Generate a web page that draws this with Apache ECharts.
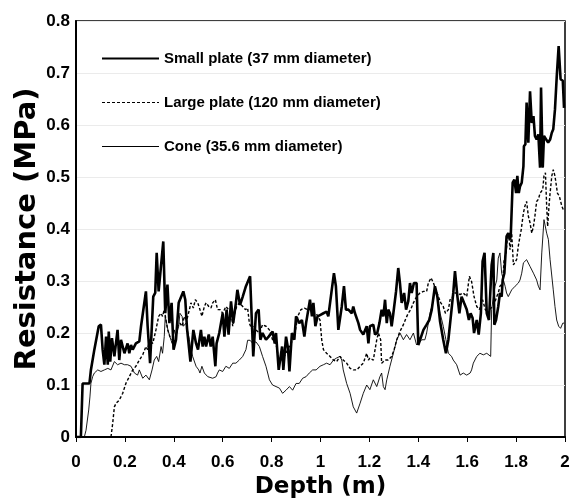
<!DOCTYPE html>
<html><head><meta charset="utf-8">
<script src="https://cdn.jsdelivr.net/npm/echarts@6/dist/echarts.min.js"></script>
<style>html,body{margin:0;padding:0;background:#fff}#c{width:579px;height:500px}</style>
</head><body><div id="c"></div>
<script>
var xTicks = [0, 0.2, 0.4, 0.6, 0.8, 1, 1.2, 1.4, 1.6, 1.8, 2];
var yTicks = [0, 0.1, 0.2, 0.3, 0.4, 0.5, 0.6, 0.7, 0.8];
var seriesNames = ['Small plate (37 mm diameter)', 'Large plate (120 mm diameter)', 'Cone (35.6 mm diameter)'];

var smallDepth = [0,0.020,0.027,0.055,0.061,0.075,0.093,0.102,0.109,0.116,0.123,0.130,0.134,0.140,0.147,0.157,0.170,0.177,0.184,0.198,0.204,0.211,0.218,0.225,0.232,0.245,0.259,0.266,0.286,0.293,0.303,0.316,0.324,0.330,0.338,0.357,0.365,0.374,0.382,0.391,0.399,0.409,0.420,0.439,0.447,0.454,0.468,0.480,0.491,0.499,0.511,0.518,0.525,0.532,0.543,0.551,0.559,0.570,0.575,0.586,0.600,0.607,0.616,0.624,0.634,0.643,0.654,0.660,0.671,0.682,0.695,0.712,0.720,0.725,0.736,0.747,0.754,0.763,0.777,0.788,0.804,0.813,0.818,0.829,0.843,0.848,0.859,0.867,0.873,0.883,0.893,0.900,0.913,0.924,0.934,0.941,0.957,0.965,0.971,0.979,0.988,
1.000,1.012,1.025,1.032,1.046,1.055,1.063,1.073,1.087,1.096,1.104,1.114,1.128,1.134,1.141,1.155,1.162,1.175,1.189,1.196,1.202,1.216,1.223,1.232,1.241,1.250,1.257,1.264,1.271,1.277,1.284,1.291,1.298,1.309,1.318,1.325,1.332,1.342,1.350,1.359,1.366,1.373,1.382,1.393,1.400,1.407,1.421,1.434,1.445,1.455,1.468,1.478,1.489,1.502,1.513,1.523,1.536,1.543,1.550,1.560,1.568,1.577,1.587,1.598,1.607,1.614,1.622,1.628,1.639,1.647,1.656,1.663,1.671,1.680,1.689,1.700,1.707,1.711,1.718,1.727,1.734,1.741,1.745,1.752,1.761,1.768,1.775,1.778,1.786,1.793,1.800,1.805,1.811,1.816,1.823,1.830,1.832,1.838,1.843,1.850,1.857,1.864,1.871,1.877,1.884,1.891,1.898,1.902,1.909,1.914,1.922,1.931,1.939,1.946,1.952,1.959,1.966,1.974,1.982,1.991,1.996];
var smallRes = [0,0,0.103,0.103,0.129,0.168,0.213,0.216,0.168,0.139,0.193,0.139,0.203,0.145,0.190,0.155,0.206,0.148,0.187,0.161,0.164,0.180,0.161,0.177,0.168,0.180,0.184,0.213,0.280,0.213,0.142,0.270,0.277,0.354,0.280,0.376,0.238,0.293,0.219,0.258,0.168,0.187,0.258,0.280,0.264,0.209,0.145,0.206,0.180,0.168,0.206,0.174,0.193,0.174,0.197,0.174,0.193,0.136,0.180,0.200,0.238,0.193,0.245,0.197,0.261,0.219,0.258,0.283,0.254,0.270,0.290,0.309,0.213,0.155,0.238,0.245,0.187,0.200,0.187,0.193,0.203,0.180,0.200,0.129,0.174,0.129,0.193,0.171,0.126,0.200,0.187,0.232,0.219,0.225,0.193,0.219,0.264,0.232,0.258,0.213,0.232,
0.235,0.238,0.241,0.232,0.283,0.315,0.290,0.206,0.251,0.290,0.245,0.245,0.238,0.251,0.238,0.219,0.206,0.197,0.213,0.180,0.213,0.216,0.197,0.200,0.219,0.245,0.232,0.264,0.219,0.245,0.238,0.213,0.238,0.280,0.325,0.296,0.258,0.277,0.245,0.261,0.296,0.277,0.296,0.296,0.177,0.177,0.206,0.216,0.225,0.245,0.290,0.270,0.222,0.187,0.161,0.187,0.245,0.277,0.319,0.270,0.238,0.270,0.258,0.245,0.225,0.238,0.229,0.200,0.225,0.197,0.238,0.338,0.354,0.238,0.225,0.331,0.354,0.216,0.225,0.251,0.277,0.270,0.302,0.315,0.386,0.392,0.380,0.386,0.489,0.495,0.469,0.502,0.469,0.482,0.489,0.521,0.559,0.563,0.643,0.566,0.665,0.604,0.617,0.579,0.572,0.582,0.518,0.672,0.518,0.579,0.582,0.566,0.572,0.585,0.592,0.630,0.691,0.752,0.688,0.685,0.633];

var largeDepth = [0,0.143,0.150,0.157,0.164,0.177,0.191,0.204,0.218,0.232,0.245,0.259,0.273,0.286,0.293,0.300,0.314,0.327,0.338,0.348,0.354,0.361,0.368,0.375,0.384,0.395,0.409,0.416,0.425,0.434,0.443,0.453,0.464,0.470,0.480,0.488,0.498,0.507,0.515,0.525,0.532,0.543,0.552,0.559,0.570,0.579,0.589,0.600,0.613,0.624,0.634,0.641,0.649,0.657,0.668,0.682,0.693,0.702,0.709,0.720,0.729,0.736,0.750,0.763,0.777,0.791,0.804,0.818,0.832,0.838,0.852,0.866,0.879,0.893,0.907,0.920,0.934,0.948,0.961,0.971,0.982,
0.998,1.005,1.012,1.025,1.039,1.053,1.066,1.080,1.093,1.107,1.121,1.134,1.148,1.162,1.175,1.189,1.196,1.202,1.216,1.230,1.237,1.246,1.250,1.264,1.277,1.291,1.301,1.312,1.325,1.339,1.350,1.359,1.369,1.380,1.393,1.407,1.421,1.434,1.441,1.452,1.462,1.472,1.482,1.492,1.502,1.511,1.523,1.530,1.541,1.550,1.560,1.571,1.584,1.598,1.609,1.618,1.628,1.639,1.650,1.663,1.674,1.686,1.696,1.707,1.721,1.727,1.734,1.745,1.751,1.759,1.764,1.770,1.775,1.782,1.789,1.796,1.802,1.809,1.816,1.821,1.830,1.836,1.843,1.850,1.857,1.864,1.871,1.877,1.884,1.891,1.898,1.905,1.909,1.914,1.920,1.925,1.929,1.935,1.939,1.946,1.952,1.959,1.969,1.977,1.987,1.996];
var largeRes = [0,0,0.026,0.058,0.065,0.071,0.084,0.103,0.116,0.129,0.136,0.148,0.158,0.174,0.168,0.187,0.180,0.206,0.232,0.238,0.232,0.245,0.225,0.206,0.193,0.187,0.193,0.213,0.219,0.213,0.232,0.225,0.245,0.258,0.248,0.264,0.258,0.245,0.232,0.251,0.258,0.251,0.248,0.258,0.264,0.245,0.245,0.238,0.251,0.245,0.245,0.213,0.238,0.251,0.258,0.251,0.245,0.248,0.219,0.206,0.213,0.206,0.200,0.216,0.213,0.206,0.187,0.180,0.142,0.148,0.155,0.168,0.180,0.193,0.232,0.245,0.248,0.245,0.245,0.238,0.238,
0.225,0.187,0.168,0.161,0.155,0.148,0.145,0.155,0.148,0.142,0.132,0.129,0.129,0.136,0.142,0.161,0.148,0.152,0.148,0.187,0.200,0.187,0.142,0.148,0.148,0.155,0.168,0.187,0.203,0.216,0.229,0.238,0.245,0.258,0.270,0.277,0.280,0.280,0.296,0.306,0.296,0.283,0.270,0.258,0.251,0.238,0.245,0.264,0.270,0.277,0.277,0.274,0.277,0.270,0.309,0.299,0.270,0.251,0.245,0.264,0.245,0.238,0.248,0.251,0.270,0.277,0.290,0.296,0.341,0.354,0.380,0.392,0.360,0.392,0.331,0.328,0.341,0.367,0.386,0.399,0.431,0.444,0.453,0.425,0.412,0.392,0.405,0.425,0.453,0.457,0.469,0.466,0.476,0.502,0.508,0.444,0.405,0.447,0.469,0.502,0.514,0.502,0.469,0.463,0.444,0.434];

var coneDepth = [0,0.034,0.041,0.052,0.057,0.061,0.068,0.075,0.089,0.102,0.116,0.130,0.143,0.157,0.170,0.184,0.198,0.211,0.225,0.239,0.252,0.259,0.273,0.286,0.300,0.311,0.320,0.330,0.338,0.348,0.354,0.361,0.365,0.371,0.376,0.384,0.393,0.402,0.409,0.420,0.425,0.434,0.439,0.450,0.464,0.470,0.477,0.491,0.502,0.507,0.515,0.525,0.539,0.559,0.573,0.579,0.586,0.600,0.613,0.627,0.641,0.654,0.668,0.682,0.695,0.702,0.712,0.723,0.736,0.750,0.763,0.777,0.791,0.804,0.818,0.832,0.845,0.859,0.873,0.886,0.900,0.913,0.927,0.941,0.954,0.968,0.982,
0.998,1.012,1.025,1.039,1.053,1.066,1.080,1.087,1.093,1.107,1.121,1.134,1.148,1.162,1.175,1.189,1.202,1.216,1.230,1.243,1.250,1.257,1.264,1.271,1.284,1.298,1.312,1.325,1.339,1.352,1.366,1.380,1.393,1.400,1.414,1.427,1.434,1.448,1.462,1.468,1.475,1.482,1.489,1.496,1.502,1.513,1.523,1.536,1.543,1.557,1.571,1.584,1.598,1.612,1.618,1.625,1.639,1.652,1.666,1.680,1.696,1.700,1.707,1.714,1.721,1.727,1.734,1.741,1.748,1.755,1.761,1.768,1.782,1.796,1.809,1.816,1.823,1.830,1.843,1.850,1.857,1.871,1.884,1.891,1.898,1.905,1.914,1.920,1.925,1.932,1.939,1.952,1.959,1.966,1.974,1.982,1.991,1.996];
var coneRes = [0,0,0.013,0.052,0.077,0.103,0.116,0.123,0.129,0.126,0.129,0.132,0.129,0.145,0.139,0.142,0.139,0.139,0.136,0.123,0.119,0.129,0.113,0.119,0.110,0.129,0.148,0.155,0.145,0.174,0.161,0.193,0.232,0.232,0.206,0.193,0.180,0.206,0.193,0.213,0.238,0.232,0.213,0.219,0.187,0.168,0.155,0.136,0.129,0.123,0.136,0.123,0.116,0.113,0.116,0.123,0.129,0.126,0.136,0.132,0.142,0.142,0.148,0.155,0.168,0.186,0.186,0.180,0.183,0.174,0.155,0.136,0.110,0.100,0.097,0.094,0.084,0.090,0.097,0.090,0.103,0.103,0.113,0.116,0.123,0.129,0.129,
0.136,0.139,0.142,0.139,0.148,0.152,0.155,0.148,0.129,0.103,0.084,0.058,0.046,0.065,0.084,0.100,0.091,0.110,0.097,0.116,0.123,0.097,0.091,0.110,0.136,0.161,0.187,0.200,0.187,0.197,0.187,0.200,0.177,0.174,0.187,0.187,0.200,0.238,0.264,0.290,0.277,0.258,0.238,0.225,0.213,0.187,0.161,0.155,0.148,0.139,0.119,0.123,0.119,0.123,0.129,0.142,0.155,0.161,0.158,0.161,0.155,0.245,0.270,0.290,0.302,0.344,0.354,0.315,0.302,0.290,0.277,0.270,0.283,0.290,0.296,0.302,0.315,0.335,0.341,0.341,0.328,0.315,0.302,0.290,0.283,0.354,0.418,0.418,0.392,0.380,0.341,0.283,0.251,0.225,0.213,0.209,0.219,0.219];

function pairs(xs, ys) { return xs.map(function (x, i) { return [x, ys[i]]; }); }

var FONT = '"Liberation Sans", Arial, sans-serif';
var WIDE = '"DejaVu Sans", "Liberation Sans", sans-serif';
var chart = echarts.init(document.getElementById('c'), null, { renderer: 'canvas' });
chart.setOption({
  animation: false,
  backgroundColor: '#fff',
  grid: { left: 76, right: 14, top: 21, bottom: 63, containLabel: false, outerBoundsMode: 'none',
    show: true, borderColor: '#000', borderWidth: 1.5, backgroundColor: 'transparent' },
  legend: {
    orient: 'vertical', left: 96, top: 46, itemWidth: 57, itemHeight: 14, itemGap: 29,
    itemStyle: { color: 'transparent', borderColor: 'transparent', borderWidth: 0 },
    textStyle: { fontFamily: FONT, fontWeight: 'bold', fontSize: 15, color: '#000' },
    data: [
      { name: seriesNames[0], lineStyle: { width: 2 } },
      { name: seriesNames[1], lineStyle: { width: 1.2, type: [3, 2] } },
      { name: seriesNames[2], lineStyle: { width: 1 } }
    ]
  },
  xAxis: {
    type: 'value', min: xTicks[0], max: xTicks[xTicks.length - 1], interval: 0.2,
    name: 'Depth (m)', nameLocation: 'middle', nameGap: 39,
    nameTextStyle: { fontFamily: WIDE, fontWeight: 'bold', fontSize: 23, color: '#000' },
    axisLine: { lineStyle: { color: '#000', width: 2 } },
    axisTick: { show: true, inside: false, length: 5, lineStyle: { color: '#000', width: 1 } },
    axisLabel: { fontFamily: FONT, fontWeight: 'bold', fontSize: 17, color: '#000', margin: 17 },
    splitLine: { show: false }
  },
  yAxis: {
    type: 'value', min: yTicks[0], max: yTicks[yTicks.length - 1], interval: 0.1,
    name: 'Resistance (MPa)', nameLocation: 'middle', nameGap: 34, nameMoveOverlap: false,
    nameTextStyle: { fontFamily: WIDE, fontWeight: 'bold', fontSize: 29, color: '#000' },
    axisLine: { show: true, lineStyle: { color: '#000', width: 2 } },
    axisTick: { show: false },
    axisLabel: { fontFamily: FONT, fontWeight: 'bold', fontSize: 17, color: '#000', margin: 6 },
    splitLine: { show: true, lineStyle: { color: '#ebebeb', width: 1 } }
  },
  series: [
    { name: seriesNames[0], type: 'line', data: pairs(smallDepth, smallRes), showSymbol: false, symbol: 'none',
      lineStyle: { color: '#000', width: 2.6 }, itemStyle: { color: '#000' }, z: 4 },
    { name: seriesNames[1], type: 'line', data: pairs(largeDepth, largeRes), showSymbol: false, symbol: 'none',
      lineStyle: { color: '#000', width: 1.4, type: [3, 2] }, itemStyle: { color: '#000' }, z: 3 },
    { name: seriesNames[2], type: 'line', data: pairs(coneDepth, coneRes), showSymbol: false, symbol: 'none',
      lineStyle: { color: '#000', width: 0.9 }, itemStyle: { color: '#000' }, z: 2 }
  ]
});
</script></body></html>
